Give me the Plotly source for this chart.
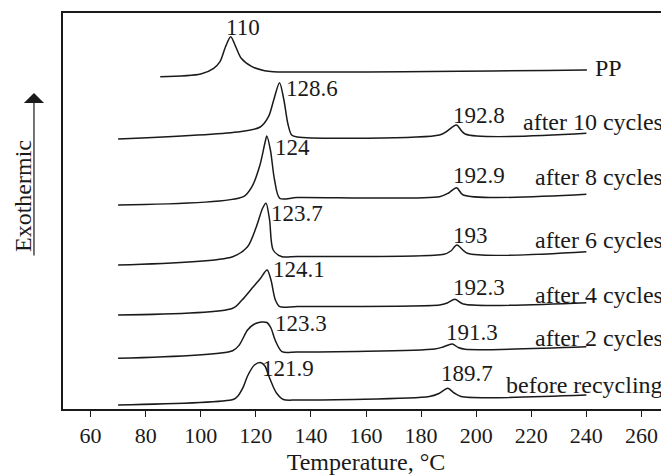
import plotly.graph_objects as go

# ---- data (temperature in °C, signal in arbitrary units) ----
names = ["before recycling", "after 2 cycles", "after 4 cycles", "after 6 cycles",
         "after 8 cycles", "after 10 cycles", "PP"]

t_before = [70, 112, 113.5, 115.5, 117, 119.5, 121.9, 123.3, 125, 126.3, 127.5, 130, 135, 183, 186.5, 189.7, 192, 194.5, 240]
s_before = [4, 9.7, 13, 22.3, 33, 44, 46.3, 43, 31, 22.3, 16, 9.5, 9, 12.5, 15.5, 20.7, 16, 12.5, 14]

t_2 = [70, 111.6, 114, 117, 119.5, 122, 124, 125.5, 127, 129.5, 135, 185, 188, 191.3, 193.5, 196, 240]
s_2 = [50.7, 58.3, 64, 79, 85, 87, 86.5, 81, 69, 57.3, 57, 60, 62, 65, 61.5, 59.7, 62.3]

t_4 = [70, 111.6, 115, 118.6, 121.5, 124.1, 125.5, 127.1, 128.7, 135, 186.7, 189.5, 192.3, 195.3, 240]
s_4 = [94, 100.7, 109, 120.7, 130, 139, 129, 109, 102.3, 102.5, 104, 106, 109.7, 105, 106.3]

t_6 = [70, 111.6, 117, 120.2, 122.5, 123.7, 125, 126.3, 129.5, 135, 188.3, 190.8, 193, 196.8, 240]
s_6 = [144, 152.3, 162.3, 182.3, 201, 205.7, 189, 159, 152.3, 152.5, 154.7, 158, 164, 155.7, 157.3]

t_8 = [70, 115.5, 118.6, 121.5, 123.3, 124, 125.3, 126.8, 128.7, 135, 186.7, 190, 192.9, 195.3, 240]
s_8 = [204, 212.3, 222.3, 244, 266, 273, 259, 229, 210.7, 211.5, 212.3, 216, 221.3, 214, 214.7]

t_10 = [70, 113.2, 121.6, 124.6, 126.5, 128.6, 130.2, 131.6, 133, 135, 186.7, 189.5, 192.8, 196, 240]
s_10 = [270, 277, 282, 292.3, 309, 326.3, 309, 285.7, 274, 272, 274, 278, 284, 275, 275.7]

t_pp = [85.3, 100, 104.7, 107, 109, 110.9, 112.7, 114.7, 118.6, 123.2, 126.3, 240.2]
s_pp = [332.3, 335, 340.7, 347.3, 362.3, 372.3, 362.3, 350.7, 342.3, 338.3, 337.3, 339]

temps = [t_before, t_2, t_4, t_6, t_8, t_10, t_pp]
signals = [s_before, s_2, s_4, s_6, s_8, s_10, s_pp]

# peak labels: (text, T, signal)
peak1_text = ["121.9", "123.3", "124.1", "123.7", "124", "128.6"]
peak1_t = [121.6, 126.3, 125.6, 124.8, 126.2, 130.2]
peak1_s = [41, 86, 140, 196, 262, 321]

peak2_text = ["189.7", "191.3", "192.3", "193", "192.9", "192.8"]
peak2_t = [186.6, 188.4, 190.9, 190.9, 190.9, 190.9]
peak2_s = [36, 77, 122, 174, 234, 294]

pp_label = "110"
pp_label_t = 115.4
pp_label_s = 382

name_t = [268.5, 268.5, 268.5, 268.5, 268.5, 268.5, 242.5]
name_s = [24, 71, 114, 169, 232, 287, 340.7]

x_ticks = [60, 80, 100, 120, 140, 160, 180, 200, 220, 240, 260]

FONT = "Liberation Serif, Times New Roman, serif"
INK = "#1a1a1a"

fig = go.Figure()
for t, s in zip(temps, signals):
    fig.add_trace(go.Scatter(x=t, y=s, mode="lines",
                             line=dict(color=INK, width=1.5, shape="spline", smoothing=0.8),
                             hoverinfo="skip", showlegend=False))

ann = []
for txt, t, s in zip(peak1_text, peak1_t, peak1_s):
    ann.append(dict(x=t, y=s, text=txt, showarrow=False, xanchor="left", yanchor="middle",
                    font=dict(size=23)))
for txt, t, s in zip(peak2_text, peak2_t, peak2_s):
    ann.append(dict(x=t, y=s, text=txt, showarrow=False, xanchor="left", yanchor="middle",
                    font=dict(size=23)))
ann.append(dict(x=pp_label_t, y=pp_label_s, text=pp_label, showarrow=False,
                xanchor="center", yanchor="middle", font=dict(size=23)))
for nm, t, s in zip(names, name_t, name_s):
    ann.append(dict(x=t, y=s, text=nm, showarrow=False,
                    xanchor="left" if nm == "PP" else "right", yanchor="middle",
                    font=dict(size=24)))

# y-axis label with arrow
ann.append(dict(xref="paper", yref="paper", x=-0.066, y=0.538, text="Exothermic",
                textangle=-90, showarrow=False, xanchor="center", yanchor="middle",
                font=dict(size=24)))
ann.append(dict(xref="paper", yref="paper", x=-0.0479, y=0.798, text="",
                showarrow=True, ax=0, ay=164, arrowhead=1, arrowsize=2.8,
                arrowwidth=1.2, arrowcolor=INK))

fig.update_layout(
    width=661, height=468,
    margin=dict(l=55, r=0, t=5, b=67),
    paper_bgcolor="white", plot_bgcolor="white",
    font=dict(family=FONT, size=22, color=INK),
    annotations=ann,
    xaxis=dict(range=[50, 270], tickvals=x_ticks, ticks="outside", ticklen=6,
               tickwidth=1.2, tickcolor=INK, showline=True, linecolor=INK,
               linewidth=1.5, mirror=True, showgrid=False, zeroline=False,
               automargin=False,
               title=dict(text="Temperature, °C", standoff=6,
                          font=dict(family=FONT, size=24, color=INK))),
    yaxis=dict(range=[0, 396], showticklabels=False, ticks="", showline=True,
               linecolor=INK, linewidth=1.5, mirror=False, showgrid=False,
               zeroline=False, automargin=False),
)

fig.write_html("out.html")
